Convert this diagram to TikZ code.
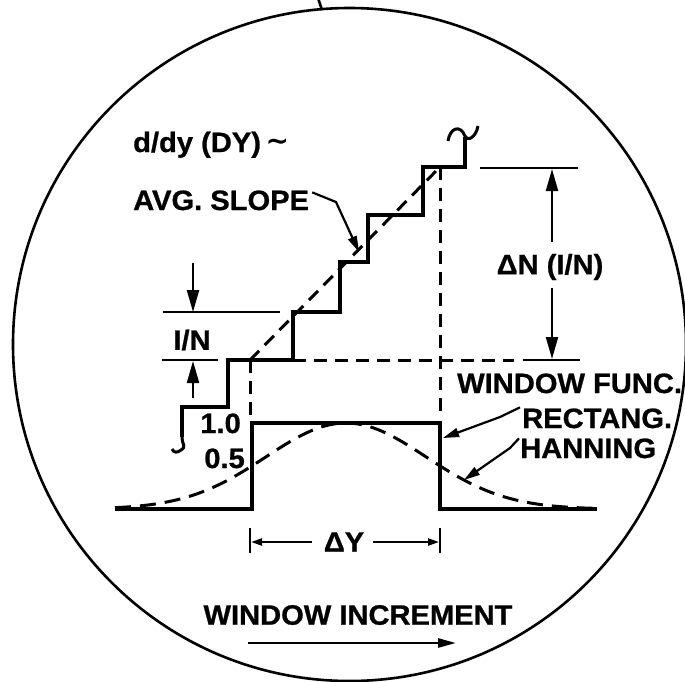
\documentclass[tikz,border=0pt]{standalone}
\usepackage{fontspec}
\setmainfont{Liberation Sans}[BoldFeatures={FakeBold=0.8,FakeStretch=1.04}]
\newfontfamily\dvfont{DejaVu Sans}
\usetikzlibrary{arrows.meta}
\begin{document}
\begin{tikzpicture}[x=1pt,y=-1pt,
  lbl/.style={inner sep=0pt, font=\fontsize{28}{30}\selectfont\bfseries},
  stair/.style={line width=3.6pt, line join=miter},
  dsh/.style={line width=3pt, dash pattern=on 13pt off 8pt},
  hdsh/.style={line width=3pt, dash pattern=on 16pt off 9pt},
  dim/.style={line width=2.2pt},
  bigtip/.style={-{Triangle[length=22pt,width=12pt]}},
  midtip/.style={-{Triangle[length=16pt,width=9pt]}},
  smalltip/.style={-{Triangle[length=11pt,width=7pt]}}]
\clip (0,0) rectangle (685,681);
\fill[white] (0,0) rectangle (685,681);
% outline circle and top stub
\draw[line width=2.6pt] (349.5,344.5) circle[radius=336.5];
\coordinate (stubA) at (318,-2);
\coordinate (stubB) at (322,10);
\draw[line width=2.6pt] (stubA) -- (stubB);

% staircase
\draw[stair] (182,437) -- (182,407) -- (228,407) -- (228,360) -- (293,360) -- (293,312)
  -- (340,312) -- (340,262) -- (368,262) -- (368,215) -- (423,215) -- (423,167)
  -- (465,167) -- (465,137);
% break marks
\draw[line width=3pt] (182,436) .. controls (182,446) and (187,446) .. (181,450)
  .. controls (177,453) and (174,453) .. (172,449);
\draw[line width=3pt] (448,141) .. controls (450,128) and (460,124) .. (465,136)
  .. controls (468,142) and (476,137) .. (478,126);

% dashed construction lines
\coordinate (sA) at (250,360);
\coordinate (sB) at (440,167);
\draw[dsh] (sA) -- (sB);
\draw[dsh] (sA) -- (250,418);
\draw[dsh] (sB) -- (440,418);
\draw[dsh] (293,360) -- (514,360);

% window rectangle
\draw[stair] (115,509) -- (252,509) -- (252,423) -- (440,423) -- (440,509) -- (597,509);
% hanning
\draw[hdsh] plot[domain=115:597, samples=120] (\x, {509-86*exp(-0.5*((\x-346)/80)^2)});

% labels
\node[lbl, anchor=base west] (ddy) at (133,152) {d/dy (DY)\,{\dvfont\bfseries\raisebox{2pt}{∼}}};
\node[lbl, anchor=base west] (avg) at (133,210) {AVG. SLOPE};
\node[lbl] (iN) at (192,340) {I/N};
\node[lbl] (dN) at (550,267) {ΔN (I/N)};
\node[lbl, anchor=base west] (wf) at (457,393) {WINDOW FUNC.};
\node[lbl, anchor=base west] (rect) at (522,428) {RECTANG.};
\node[lbl, anchor=base west] (han) at (520,458) {HANNING};
\node[lbl, anchor=base east] (one) at (241,433) {1.0};
\node[lbl, anchor=base east] (half) at (245,468) {0.5};
\node[lbl] (dY) at (344,542) {ΔY};
\node[lbl] (wi) at (358,615) {WINDOW INCREMENT};

% leaders
\coordinate (slopeTip) at (359,252);
\draw[dim, midtip] (avg.east) ++(3,-8) coordinate (avgS) -- (336,202) -- (slopeTip);
\coordinate (rectTip) at (443,438);
\draw[dim, midtip] (rect.west) ++(-2,-11) coordinate (rS) -- (500,417) -- (rectTip);
\coordinate (hanTip) at (464,480);
\draw[dim, midtip] (han.west) ++(-1,-10) coordinate (hS) -- (510,448) -- (hanTip);

% I/N dimension
\draw[dim] (163,312) -- (280,312);
\draw[dim] (162,360) -- (218,360);
\coordinate (iNtop) at (193,312);
\coordinate (iNbot) at (193,361);
\draw[dim, bigtip] (193,263) -- (iNtop);
\draw[dim, bigtip] (193,398) -- (iNbot);

% Delta N dimension
\draw[dim] (480,168) -- (578,168);
\draw[dim] (523,360) -- (580,360);
\coordinate (dNtop) at (552,169);
\coordinate (dNbot) at (552,359);
\draw[dim, bigtip] (552,242) -- (dNtop);
\draw[dim, bigtip] (552,288) -- (dNbot);

% Delta Y dimension
\draw[dim] (250,528) -- (250,553);
\draw[dim] (440,528) -- (440,553);
\coordinate (dYl) at (251,542);
\coordinate (dYr) at (439,542);
\draw[dim, smalltip] (dY.west) ++(-12,0) -- (dYl);
\draw[dim, smalltip] (dY.east) ++(9,0) -- (dYr);

% window increment arrow
\coordinate (wiA) at (248,643);
\coordinate (wiB) at (456,643);
\draw[line width=2.6pt, -{Triangle[length=18pt,width=9pt]}] (wiA) -- (wiB);
\end{tikzpicture}
\end{document}
